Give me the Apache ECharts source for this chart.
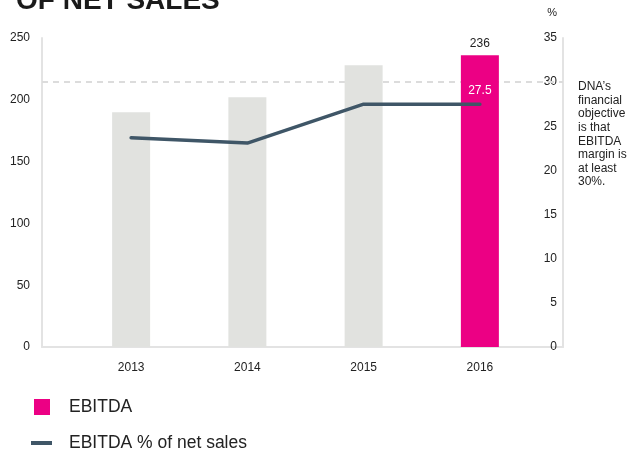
<!DOCTYPE html>
<html>
<head>
<meta charset="utf-8">
<script src="https://cdn.jsdelivr.net/npm/echarts@6/dist/echarts.min.js"></script>
<style>
  html, body { margin: 0; padding: 0; background: #fff; }
  #chart { width: 638px; height: 455px; }
</style>
</head>
<body>
<div id="chart"></div>
<script>
// EBITDA (MEUR) and EBITDA margin (% of net sales) by year
const years = ['2013', '2014', '2015', '2016'];
const ebitda = [190, 202, 228, 236];
const ebitdaMargin = [23.7, 23.1, 27.5, 27.5];
const marginTarget = 30;
const leftTicks = { min: 0, max: 250, interval: 50 };
const rightTicks = { min: 0, max: 35, interval: 5 };

const FONT = '"Liberation Sans", Arial, sans-serif';
const PINK = '#ec0084';
const GREY_BAR = '#e1e2df';
const LINE = '#3f5667';
const AXIS = '#e3e3e3';
const TEXT = '#222';

const lastIdx = years.length - 1;

const barData = ebitda.map((v, i) => i === lastIdx
  ? { value: v, label: { show: true, position: 'top', distance: 6, color: TEXT, fontSize: 12, fontFamily: FONT } }
  : { value: v, itemStyle: { color: GREY_BAR } });

const lineData = ebitdaMargin.map((v, i) => i === lastIdx
  ? { value: v, label: { show: true, position: 'top', distance: 8, color: '#fff', fontSize: 12, fontFamily: FONT } }
  : v);

const chart = echarts.init(document.getElementById('chart'), null, { renderer: 'canvas' });

chart.setOption({
  animation: false,
  backgroundColor: '#fff',
  textStyle: { fontFamily: FONT },
  title: [
    {
      text: 'OF NET SALES',
      left: 16, top: -13, padding: 0,
      textStyle: { fontSize: 28, fontWeight: 'bold', color: '#1a1a1a', fontFamily: FONT }
    },
    {
      text: "DNA’s\nfinancial\nobjective\nis that\nEBITDA\nmargin is\nat least\n30%.",
      left: 578, top: 80, padding: 0,
      textStyle: { fontSize: 12, lineHeight: 13.6, fontWeight: 'normal', color: TEXT, fontFamily: FONT }
    }
  ],
  legend: [
    {
      data: ['EBITDA'],
      left: 34, top: 398, orient: 'vertical', padding: 0,
      icon: 'rect', itemWidth: 16, itemHeight: 16,
      textStyle: { fontSize: 17.5, color: TEXT, fontFamily: FONT, padding: [0, 0, 0, 14] }
    },
    {
      data: ['EBITDA % of net sales'],
      left: 31, top: 434, orient: 'vertical', padding: 0,
      icon: 'rect', itemWidth: 21, itemHeight: 4,
      textStyle: { fontSize: 17.5, color: TEXT, fontFamily: FONT, padding: [0, 0, 0, 12] }
    }
  ],
  grid: [
    // frame grid carrying the visible axes
    { left: 42, right: 75, top: 38, bottom: 108 },
    // data grid holding the bars and the margin line
    { left: 73, right: 100, top: 38, bottom: 108 }
  ],
  xAxis: [
    {
      gridIndex: 0, type: 'category', data: [''],
      axisLine: { show: true, lineStyle: { color: AXIS, width: 2 } },
      axisTick: { show: false }, axisLabel: { show: false }, splitLine: { show: false }
    },
    {
      gridIndex: 1, type: 'category', data: years,
      axisLine: { show: false }, axisTick: { show: false },
      axisLabel: { color: TEXT, fontSize: 12, margin: 15, fontFamily: FONT }
    }
  ],
  yAxis: [
    {
      gridIndex: 0, type: 'value', position: 'left', ...leftTicks,
      axisLine: { show: true, lineStyle: { color: AXIS, width: 2 } },
      axisTick: { show: false }, splitLine: { show: false },
      axisLabel: { color: TEXT, fontSize: 12, margin: 12, fontFamily: FONT }
    },
    {
      gridIndex: 0, type: 'value', position: 'right', ...rightTicks,
      name: '%', nameLocation: 'end', nameGap: 20,
      nameTextStyle: { color: TEXT, fontSize: 11, align: 'right', padding: [0, 6, 0, 0], fontFamily: FONT },
      axisLine: { show: true, lineStyle: { color: AXIS, width: 2 } },
      axisTick: { show: false }, splitLine: { show: false },
      axisLabel: { inside: true, color: TEXT, fontSize: 12, margin: 6, fontFamily: FONT }
    },
    { gridIndex: 1, type: 'value', ...leftTicks, show: false, splitLine: { show: false } },
    { gridIndex: 1, type: 'value', ...rightTicks, show: false, splitLine: { show: false } }
  ],
  series: [
    {
      // 30 % target reference line, kept behind the bars
      name: 'target', type: 'line', xAxisIndex: 0, yAxisIndex: 1, data: [], z: 1,
      markLine: {
        silent: true, symbol: 'none', z: 1, label: { show: false },
        lineStyle: { color: '#dcdcdc', width: 2, type: [6, 5] },
        data: [{ yAxis: marginTarget }]
      }
    },
    {
      name: 'EBITDA', type: 'bar', xAxisIndex: 1, yAxisIndex: 2, z: 2,
      barWidth: 38,
      itemStyle: { color: PINK },
      data: barData
    },
    {
      name: 'EBITDA % of net sales', type: 'line', xAxisIndex: 1, yAxisIndex: 3, z: 3,
      showSymbol: true, symbol: 'circle', symbolSize: 0,
      itemStyle: { color: LINE },
      lineStyle: { color: LINE, width: 3.5, cap: 'round', join: 'round' },
      data: lineData
    }
  ]
});
</script>
</body>
</html>
